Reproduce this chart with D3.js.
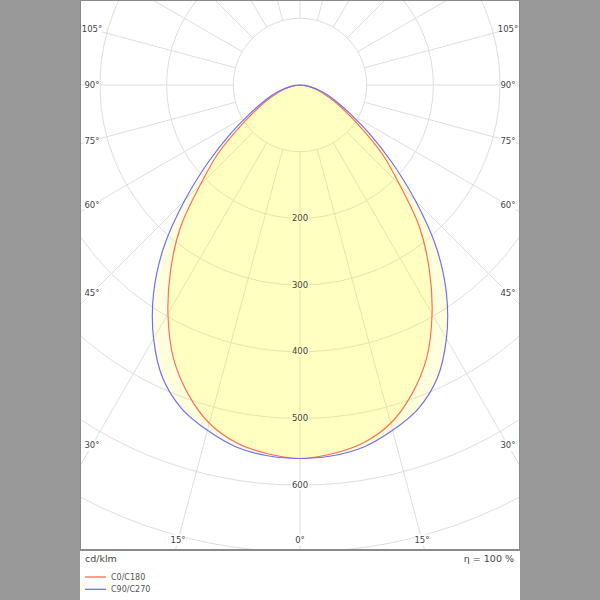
<!DOCTYPE html>
<html>
<head>
<meta charset="utf-8">
<script src="https://cdn.jsdelivr.net/npm/d3@7"></script>
<style>
html,body{margin:0;padding:0;background:#999999;}
svg{display:block;}
</style>
</head>
<body>
<svg id="chart" width="600" height="600"></svg>
<script>
// ---- data ----
const gammas = [0,5,10,15,20,25,30,35,40,45,50,55,60,65,70,75,80,85,90];
const c0c180 = [560,555,545,525,492,450,396,338,279,211,161,112,78,55,38,25,14,6,0];
const c90c270 = [560,558,551,536,517,486,439,383,318,244,179,127,88,62,44,29,16,7,0];
const ringValues = [100,200,300,400,500,600,700];
const ringLabels = [200,300,400,500,600];
const spokeAngles = d3.range(0,181,15);
const angleLabelsSide = [30,45,60,75,90,105];
const angleLabelsBottom = [15,0,15];
const seriesNames = ["C0/C180","C90/C270"];
const unitLabel = "cd/klm";
const effLabel = "η = 100 %";

// ---- layout ----
const svg = d3.select("#chart");
const W = 600, H = 600;
const panel = {x0:80.5, x1:519.5, y0:0.5, y1:549.5};
const cx = 300, cy = 85;
const r = d3.scaleLinear().domain([0,700]).range([0,466.9]);
const font = "DejaVu Sans, Verdana, sans-serif";
const red = "#ff6f55", blue = "#6f6fff";

svg.append("rect").attr("x",0).attr("y",0).attr("width",W).attr("height",H).attr("fill","#999999");
svg.append("rect").attr("x",panel.x0).attr("y",panel.y0).attr("width",panel.x1-panel.x0).attr("height",panel.y1-panel.y0)
  .attr("fill","#ffffff").attr("stroke","#8a8a8a").attr("stroke-width",1);
svg.append("rect").attr("x",80).attr("y",550.5).attr("width",440).attr("height",50)
  .attr("fill","#ffffff");
svg.append("line").attr("x1",80).attr("x2",520).attr("y1",550.5).attr("y2",550.5).attr("stroke","#8a8a8a");

svg.append("defs").append("clipPath").attr("id","clip")
  .append("rect").attr("x",81).attr("y",1).attr("width",438).attr("height",548);

const g = svg.append("g").attr("clip-path","url(#clip)");
const grid = g.append("g").attr("transform",`translate(${cx},${cy})`);
const gridColor = "#dedede";

// rings
grid.selectAll("circle.ring").data(ringValues).join("circle")
  .attr("class","ring").attr("r",d=>r(d)).attr("fill","none")
  .attr("stroke",gridColor).attr("stroke-width",1);

// spokes (gamma measured from nadir, both sides)
const toXY = (gDeg, rad) => {
  const a = gDeg*Math.PI/180;
  return [rad*Math.sin(a), rad*Math.cos(a)];
};
const spokes = [];
spokeAngles.forEach(a => { spokes.push(a); if (a!==0 && a!==180) spokes.push(-a); });
grid.selectAll("line.spoke").data(spokes).join("line")
  .attr("class","spoke")
  .attr("x1",d=>toXY(d,r(100))[0]).attr("y1",d=>toXY(d,r(100))[1])
  .attr("x2",d=>toXY(d,900)[0]).attr("y2",d=>toXY(d,900)[1])
  .attr("stroke",gridColor).attr("stroke-width",1);

// angle labels with white boxes
const labelFont = 8.5;
function boxLabel(parent, x, y, txt, w) {
  const gg = parent.append("g");
  gg.append("rect").attr("x",x-w/2).attr("y",y-5.5).attr("width",w).attr("height",11).attr("fill","#ffffff");
  gg.append("text").attr("x",x).attr("y",y).attr("text-anchor","middle").attr("dominant-baseline","central")
    .attr("font-family",font).attr("font-size",labelFont).attr("fill","#444").text(txt);
}
const sideDx = 208;
angleLabelsSide.forEach(a => {
  const dy = sideDx/Math.tan(a*Math.PI/180);
  boxLabel(svg, cx - sideDx, cy + dy, a+"°", a>=100?20:15);
  boxLabel(svg, cx + sideDx, cy + dy, a+"°", a>=100?20:15);
});
const bottomY = 540;
angleLabelsBottom.forEach((a,i) => {
  const dx = (bottomY-cy)*Math.tan(a*Math.PI/180) * (i===0?-1:1);
  boxLabel(svg, cx + dx, bottomY, a+"°", a===0?11:15);
});

// ring label backgrounds (under the fill)
const ringLabelG = svg.append("g");
ringLabels.forEach(v => {
  ringLabelG.append("rect").attr("x",cx-9).attr("y",cy+r(v)-5.5).attr("width",18).attr("height",10).attr("fill","#ffffff");
});

// curves
function curvePoints(vals){
  const pts = [];
  for (let i=gammas.length-1;i>=0;i--) pts.push([Math.PI + gammas[i]*Math.PI/180, r(vals[i])]);
  for (let i=1;i<gammas.length;i++) pts.push([Math.PI - gammas[i]*Math.PI/180, r(vals[i])]);
  return pts;
}
const radial = d3.lineRadial().angle(d=>d[0]).radius(d=>d[1]).curve(d3.curveCatmullRomClosed.alpha(0.5));
const curveG = svg.append("g").attr("transform",`translate(${cx},${cy})`);
const series = [c0c180, c90c270];
curveG.selectAll("path.fill").data(series).join("path")
  .attr("class","fill").attr("d",d=>radial(curvePoints(d)))
  .attr("fill","#ffff00").attr("fill-opacity",0.13).attr("stroke","none");

// ring labels text
ringLabels.forEach(v => {
  svg.append("text").attr("x",cx).attr("y",cy+r(v)-0.5).attr("text-anchor","middle").attr("dominant-baseline","central")
    .attr("font-family",font).attr("font-size",labelFont).attr("fill","#444").text(v);
});

curveG.selectAll("path.line").data(series).join("path")
  .attr("class","line").attr("d",d=>radial(curvePoints(d)))
  .attr("fill","none").attr("stroke",(d,i)=>i===0?red:blue).attr("stroke-width",1.2);

// footer
svg.append("text").attr("x",85).attr("y",558).attr("dominant-baseline","central")
  .attr("font-family",font).attr("font-size",9.5).attr("fill","#444").text(unitLabel);
svg.append("text").attr("x",514).attr("y",558).attr("text-anchor","end").attr("dominant-baseline","central")
  .attr("font-family",font).attr("font-size",9.5).attr("fill","#444").text(effLabel);
const legend = svg.append("g");
seriesNames.forEach((n,i) => {
  const y = 577 + i*12.3;
  legend.append("line").attr("x1",85).attr("x2",106).attr("y1",y).attr("y2",y)
    .attr("stroke",i===0?red:blue).attr("stroke-width",1.3);
  legend.append("text").attr("x",111).attr("y",y).attr("dominant-baseline","central")
    .attr("font-family",font).attr("font-size",8).attr("fill","#555").text(n);
});
</script>
</body>
</html>
